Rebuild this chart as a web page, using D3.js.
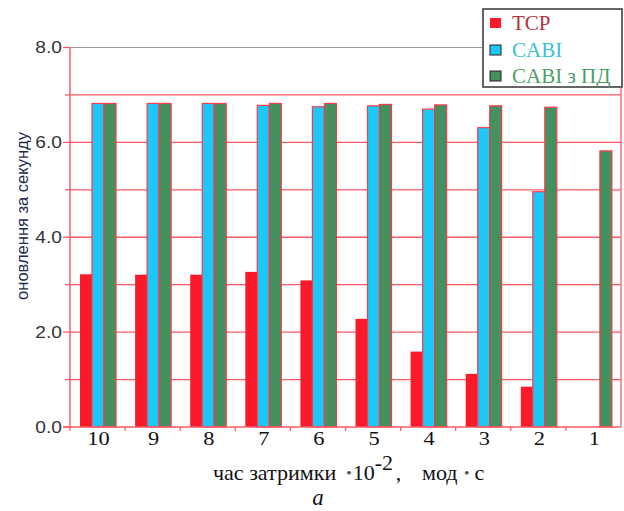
<!DOCTYPE html>
<html><head><meta charset="utf-8">
<script src="https://cdn.jsdelivr.net/npm/d3@7"></script>
<style>body{margin:0;background:#fff}svg{display:block}</style>
</head><body><svg id="c" width="624" height="511"></svg>
<script>
const categories = ["10","9","8","7","6","5","4","3","2","1"];
const seriesNames = ["TCP","CABI","CABI з ПД"];
const tcp  = [3.22,3.21,3.21,3.27,3.09,2.28,1.59,1.12,0.85,0];
const cabi = [6.82,6.82,6.82,6.78,6.75,6.77,6.70,6.31,4.96,0];
const cabiPD = [6.82,6.82,6.82,6.82,6.82,6.80,6.79,6.77,6.74,5.82];
const yTicks = [0,1,2,3,4,5,6,7,8];
const yLabels = [0,2,4,6,8];
const colors = ["#fa1a2a","#1cc8f8","#44915f"];
const textColors = ["#b8303c","#3cc0d4","#4aa064"];

const svg = d3.select("#c");
const x0 = 70, x1 = 621, yBottom = 427, yTop = 47.5;
const x = d3.scaleBand().domain(categories).range([x0, x1]).padding(0);
const xs = d3.scaleBand().domain(seriesNames).range([10, 46]).padding(0);
const y = d3.scaleLinear().domain([0, 8]).range([yBottom, yTop]);
const gridRed = "#ff5a66";
const SERIF = "Liberation Serif, Times New Roman, serif";
const SANS = "Liberation Sans, Arial, sans-serif";

// gridlines
svg.append("g").selectAll("line").data(yTicks.filter(d => d > 0 && d < 8)).join("line")
  .attr("x1", x0).attr("x2", x1).attr("y1", d => y(d)).attr("y2", d => y(d))
  .attr("stroke", gridRed).attr("stroke-width", 1.3);
svg.append("line").attr("x1", x0).attr("x2", 482).attr("y1", y(8)).attr("y2", y(8))
  .attr("stroke", "#999").attr("stroke-width", 1.2);
svg.append("line").attr("x1", x1).attr("x2", x1).attr("y1", 88).attr("y2", yBottom)
  .attr("stroke", gridRed).attr("stroke-width", 1.3);

// bars
const data = categories.map((c, i) => ({c, vals: [tcp[i], cabi[i], cabiPD[i]]}));
const g = svg.append("g");
data.forEach(d => {
  d.vals.forEach((v, k) => {
    if (v <= 0) return;
    g.append("rect")
      .attr("x", x(d.c) + xs(seriesNames[k]))
      .attr("y", y(v))
      .attr("width", xs.bandwidth())
      .attr("height", y(0) - y(v))
      .attr("fill", colors[k])
      .attr("stroke", k === 0 ? "none" : "#ff3848")
      .attr("stroke-width", 1.2);
  });
});

// axes
const yAxis = svg.append("g");
yAxis.append("line").attr("x1", x0).attr("x2", x0).attr("y1", y(8)).attr("y2", yBottom)
  .attr("stroke", gridRed).attr("stroke-width", 1.5);
yAxis.selectAll(".tk").data(yTicks).join("line")
  .attr("x1", d => yLabels.includes(d) ? 63 : 65).attr("x2", x0)
  .attr("y1", d => y(d)).attr("y2", d => y(d))
  .attr("stroke", gridRed).attr("stroke-width", 1.3);
yAxis.selectAll("text").data(yLabels).join("text")
  .attr("transform", d => `translate(62,${y(d)}) scale(1.2,1)`).attr("dy", "0.36em")
  .attr("text-anchor", "end").attr("font-family", SANS)
  .attr("font-size", 16).attr("fill", "#333").text(d => d.toFixed(1));

const xAxis = svg.append("g");
xAxis.append("line").attr("x1", 63).attr("x2", x1).attr("y1", yBottom).attr("y2", yBottom)
  .attr("stroke", gridRed).attr("stroke-width", 1.5);
xAxis.selectAll(".tk").data(categories).join("line")
  .attr("x1", d => x(d)).attr("x2", d => x(d))
  .attr("y1", yBottom).attr("y2", yBottom + 4)
  .attr("stroke", gridRed).attr("stroke-width", 1.3);
xAxis.selectAll("text").data(categories).join("text")
  .attr("transform", d => `translate(${x(d) + x.bandwidth() / 2 + 1},445) scale(1.15,1)`)
  .attr("text-anchor", "middle").attr("font-family", SERIF)
  .attr("font-size", 19.5).attr("fill", "#111").text(d => d);

// y label
svg.append("text").attr("transform", "translate(28,216) rotate(-90)")
  .attr("text-anchor", "middle").attr("font-family", SANS)
  .attr("font-size", 16.5).attr("fill", "#1c2a4c").text("оновлення за секунду");

// x label
const xl = svg.append("text").attr("transform", "translate(213,480) scale(1.05,1)")
  .attr("font-family", SERIF).attr("font-size", 21).attr("fill", "#111");
xl.append("tspan").attr("x", 0).text("час затримки");
xl.append("tspan").attr("x", 127).attr("font-size", 15).attr("fill", "#555").attr("dy", -2).text("•");
xl.append("tspan").attr("x", 133).attr("dy", 2).text("10");
xl.append("tspan").attr("x", 154).attr("dy", -10).text("-2");
xl.append("tspan").attr("x", 174).attr("dy", 10).text(",");
xl.append("tspan").attr("x", 199).text("мод");
xl.append("tspan").attr("x", 239).attr("font-size", 15).attr("fill", "#555").attr("dy", -2).text("•");
xl.append("tspan").attr("x", 249).attr("dy", 2).text("с");

svg.append("text").attr("x", 318).attr("y", 505).attr("text-anchor", "middle")
  .attr("font-family", SERIF)
  .attr("font-style", "italic").attr("font-size", 23).attr("fill", "#111").text("a");

// legend
const lg = svg.append("g");
lg.append("rect").attr("x", 483).attr("y", 9).attr("width", 139).attr("height", 78)
  .attr("fill", "#fff").attr("stroke", "#333").attr("stroke-width", 1.5);
seriesNames.forEach((s, i) => {
  const base = [30, 57, 83][i];
  lg.append("rect").attr("x", 490).attr("y", base - 12).attr("width", 11).attr("height", 10)
    .attr("fill", colors[i]).attr("stroke", i === 0 ? "none" : "#222").attr("stroke-width", 1);
  lg.append("text").attr("x", 512).attr("y", base)
    .attr("font-family", SERIF)
    .attr("font-size", 21).attr("fill", textColors[i]).text(s);
});
</script></body></html>
